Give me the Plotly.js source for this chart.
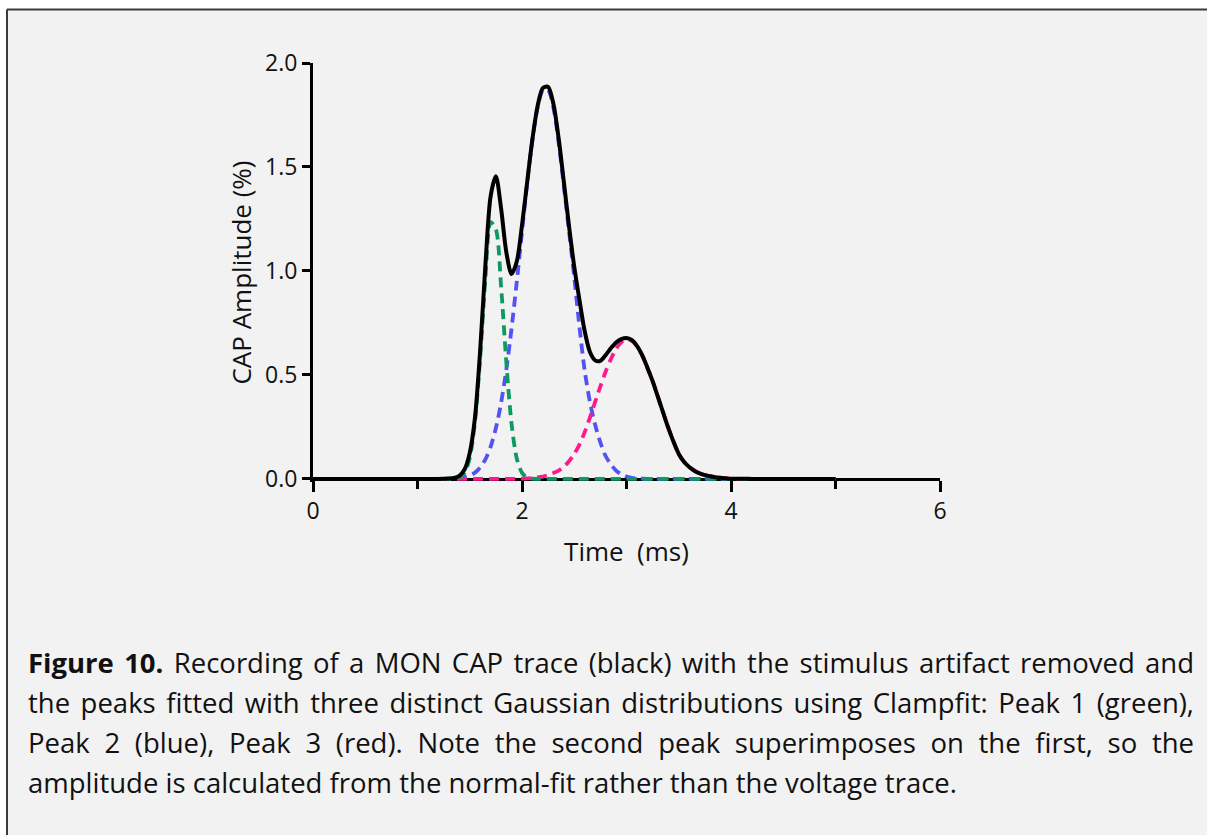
<!DOCTYPE html>
<html>
<head>
<meta charset="utf-8">
<script src="https://cdn.plot.ly/plotly-3.0.1.min.js"></script>
<style>
html,body{margin:0;padding:0;background:#ffffff;}
#chart{width:1207px;height:835px;}
</style>
</head>
<body>
<div id="chart"></div>
<script>
// ---- data ----
const timeMs = [0, 0.5, 1,
  1.2, 1.25, 1.3, 1.35, 1.4, 1.45, 1.5, 1.55, 1.6, 1.65, 1.7, 1.75, 1.8, 1.85, 1.9, 1.95,
  2, 2.05, 2.1, 2.15, 2.2, 2.25, 2.3, 2.35, 2.4, 2.45, 2.5, 2.55, 2.6, 2.65, 2.7, 2.75,
  2.8, 2.85, 2.9, 2.95, 3, 3.05, 3.1, 3.15, 3.2, 3.25, 3.3, 3.35, 3.4, 3.45, 3.5, 3.55,
  3.6, 3.65, 3.7, 3.75, 3.8, 3.85, 3.9, 3.95, 4,
  4.2, 4.5, 5];

const capTrace = [0, 0, 0,
  0, 0.001, 0.002, 0.005, 0.015, 0.045, 0.125, 0.295, 0.62, 1.03, 1.36, 1.455, 1.30, 1.09, 0.985, 1.045,
  1.22, 1.43, 1.635, 1.795, 1.88, 1.885, 1.805, 1.64, 1.43, 1.215, 1.02, 0.86, 0.71, 0.61, 0.57, 0.568,
  0.595, 0.628, 0.656, 0.672, 0.678, 0.668, 0.64, 0.595, 0.535, 0.47, 0.395, 0.32, 0.245, 0.178, 0.12, 0.082,
  0.057, 0.039, 0.026, 0.018, 0.013, 0.008, 0.005, 0.003, 0.001,
  0, 0, 0];

const peak1Green = [0, 0, 0,
  0, 0, 0, 0.001, 0.006, 0.029, 0.1, 0.275, 0.585, 0.965, 1.235, 1.2, 0.925, 0.56, 0.265, 0.098,
  0.029, 0.006, 0.001, 0, 0, 0, 0, 0, 0, 0, 0, 0, 0, 0, 0, 0,
  0, 0, 0, 0, 0, 0, 0, 0, 0, 0, 0, 0, 0, 0, 0, 0,
  0, 0, 0, 0, 0, 0, 0, 0, 0,
  0, 0, 0];

const peak2Blue = [0, 0, 0,
  0, 0, 0.001, 0.002, 0.004, 0.008, 0.016, 0.03, 0.055, 0.094, 0.155, 0.244, 0.366, 0.526, 0.723, 0.948,
  1.189, 1.425, 1.632, 1.787, 1.869, 1.869, 1.787, 1.62, 1.41, 1.19, 0.97, 0.73, 0.52, 0.37, 0.26, 0.175,
  0.11, 0.07, 0.04, 0.022, 0.011, 0.005, 0.002, 0.001, 0, 0, 0, 0, 0, 0, 0, 0,
  0, 0, 0, 0, 0, 0, 0, 0, 0,
  0, 0, 0];

const peak3Red = [0, 0, 0,
  0, 0, 0, 0, 0, 0, 0, 0, 0, 0, 0, 0, 0, 0, 0, 0,
  0.001, 0.002, 0.004, 0.007, 0.011, 0.018, 0.028, 0.04, 0.058, 0.085, 0.12, 0.165, 0.225, 0.295, 0.37, 0.445,
  0.515, 0.575, 0.625, 0.657, 0.67, 0.664, 0.638, 0.594, 0.534, 0.47, 0.395, 0.32, 0.245, 0.178, 0.12, 0.082,
  0.057, 0.039, 0.026, 0.018, 0.013, 0.008, 0.005, 0.003, 0.001,
  0, 0, 0];

const xTickVals = [0, 2, 4, 6];
const xMinorTickVals = [1, 3, 5];
const yTickVals = [0, 0.5, 1, 1.5, 2];
const yTickText = ['0.0', '0.5', '1.0', '1.5', '2.0'];

const captionLines = [
  '<b>Figure 10.</b> Recording of a MON CAP trace (black) with the stimulus artifact removed and',
  'the peaks fitted with three distinct Gaussian distributions using Clampfit: Peak 1 (green),',
  'Peak 2 (blue), Peak 3 (red). Note the second peak superimposes on the first, so the',
  'amplitude is calculated from the normal-fit rather than the voltage trace.'
];

// ---- layout geometry ----
const W = 1207, H = 835;
const L = 313, R = 940, T = 62.5;
const yMin = -0.015, yMax = 2;
const pxPerY = 208.2;
const B = T + (yMax - yMin) * pxPerY; // bottom of plot area
const plotW = R - L, plotH = B - T;
const px2paperX = p => (p - L) / plotW;
const py2paperY = p => (B - p) / plotH;

const FONT = '"Open Sans", "Noto Sans", sans-serif';
const TXT = '#111111';

function dashed(y, color, name) {
  return {
    x: timeMs, y: y, type: 'scatter', mode: 'lines', name: name,
    line: {color: color, width: 3.8, dash: '10px,6px', shape: 'spline', smoothing: 0.8},
    hoverinfo: 'skip'
  };
}

const traces = [
  dashed(peak2Blue, '#5252f5', 'Peak 2'),
  dashed(peak3Red, '#ff1a8c', 'Peak 3'),
  dashed(peak1Green, '#0c9a60', 'Peak 1'),
  {
    x: timeMs, y: capTrace, type: 'scatter', mode: 'lines', name: 'CAP',
    line: {color: '#000000', width: 4, shape: 'spline', smoothing: 0.8},
    hoverinfo: 'skip'
  }
];

const captionY = [663, 703, 743, 783];
const annotations = captionLines.map((t, i) => ({
  xref: 'paper', yref: 'paper',
  x: px2paperX(26), y: py2paperY(captionY[i]),
  xanchor: 'left', yanchor: 'middle',
  text: t, showarrow: false, align: 'left',
  font: {family: FONT, size: 27.5, color: TXT}
}));

const layout = {
  width: W, height: H,
  margin: {l: L, r: W - R, t: T, b: H - B, pad: 0},
  paper_bgcolor: '#ffffff',
  plot_bgcolor: 'rgba(0,0,0,0)',
  showlegend: false,
  hovermode: false,
  font: {family: FONT, color: TXT},
  xaxis: {
    range: [0, 6],
    anchor: 'free', position: (0 - yMin) / (yMax - yMin),
    showgrid: false, zeroline: false,
    showline: true, linecolor: '#000000', linewidth: 3,
    ticks: 'outside', ticklen: 11, tickwidth: 3, tickcolor: '#000000',
    tickmode: 'array', tickvals: xTickVals, ticktext: xTickVals.map(String),
    minor: {tickmode: 'array', tickvals: xMinorTickVals, ticks: 'outside', ticklen: 8, tickwidth: 3, tickcolor: '#000000', showgrid: false},
    tickfont: {family: FONT, size: 23, color: TXT},
    layer: 'below traces',
    title: {text: 'Time\u00a0 (ms)', font: {family: FONT, size: 26, color: TXT}, standoff: 17}
  },
  yaxis: {
    range: [yMin, yMax],
    showgrid: false, zeroline: false,
    showline: true, linecolor: '#000000', linewidth: 3,
    ticks: 'outside', ticklen: 8, tickwidth: 3, tickcolor: '#000000',
    tickmode: 'array', tickvals: yTickVals, ticktext: yTickText,
    tickfont: {family: FONT, size: 23, color: TXT},
    layer: 'below traces',
    title: {text: 'CAP Amplitude (%)', font: {family: FONT, size: 26, color: TXT}, standoff: 6}
  },
  shapes: [
    {type: 'rect', xref: 'paper', yref: 'paper', layer: 'below',
     x0: px2paperX(7), x1: px2paperX(W + 5), y0: py2paperY(H + 5), y1: py2paperY(9),
     fillcolor: '#f2f2f2', line: {width: 0}},
    {type: 'line', xref: 'paper', yref: 'paper', layer: 'below',
     x0: px2paperX(7), x1: px2paperX(W + 5), y0: py2paperY(9), y1: py2paperY(9),
     line: {color: '#3a3a3a', width: 2}},
    {type: 'line', xref: 'paper', yref: 'paper', layer: 'below',
     x0: px2paperX(7), x1: px2paperX(7), y0: py2paperY(9), y1: py2paperY(H + 5),
     line: {color: '#3a3a3a', width: 2}}
  ],
  annotations: annotations
};

Plotly.newPlot('chart', traces, layout, {displayModeBar: false, staticPlot: true}).then(gd => {
  // justify the first three caption lines like the reference
  const target = 1192 - 26;
  const texts = gd.querySelectorAll('.annotation-text');
  texts.forEach((el, i) => {
    if (i > 2) return;
    const len = el.getComputedTextLength();
    const spaces = (el.textContent.match(/ /g) || []).length;
    if (spaces > 0 && len < target) {
      el.style.wordSpacing = ((target - len) / spaces) + 'px';
    }
  });
});
</script>
</body>
</html>
